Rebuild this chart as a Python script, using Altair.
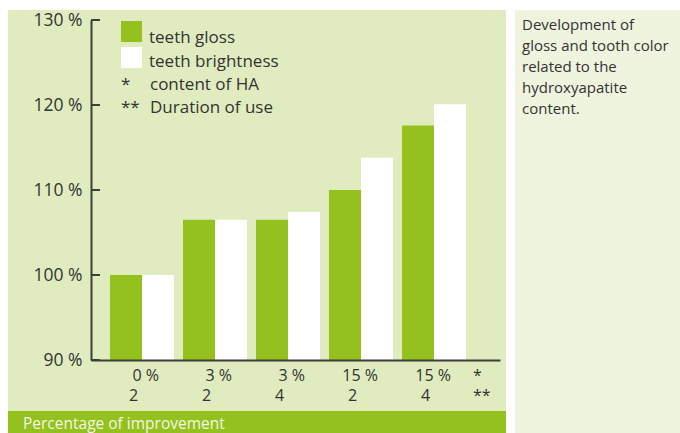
import altair as alt
import pandas as pd

# ---- data ----
ha_content = ["0 %", "3 %", "3 %", "15 %", "15 %"]
duration = ["2", "2", "4", "2", "4"]
gloss = [100.0, 106.5, 106.5, 110.0, 117.6]
brightness = [100.0, 106.5, 107.4, 113.8, 120.1]
series_names = ["teeth gloss", "teeth brightness"]
series_colors = ["#95c11f", "#ffffff"]
y_ticks = [90, 100, 110, 120, 130]
note_symbols = "*\n**"
note_texts = "content of HA\nDuration of use"
side_text = "Development of\ngloss and tooth color\nrelated to the\nhydroxyapatite\ncontent."
band_text = "Percentage of improvement"

groups = [f"G{i+1}" for i in range(len(ha_content))]
rows = []
for g, h, d, a, b in zip(groups, ha_content, duration, gloss, brightness):
    rows.append({"group": g, "series": series_names[0], "value": a})
    rows.append({"group": g, "series": series_names[1], "value": b})
bars_df = pd.DataFrame(rows)
labels_df = pd.DataFrame({"group": groups, "ha": ha_content, "dur": duration})
ticks_df = pd.DataFrame({"v": y_ticks})

FONT = "Open Sans"
DARK = "#333333"
AXIS = "#3b3f35"
W, H = 409, 340

x_scale = alt.Scale(domain=groups, paddingInner=9 / 73, paddingOuter=0.363, align=0.3585)
y_scale = alt.Scale(domain=[90, 130], zero=False, nice=False)
color_scale = alt.Scale(domain=series_names, range=series_colors)

one = pd.DataFrame({"k": [0]})

# backgrounds (decoration)
bg_main = alt.Chart(one).mark_rect(color="#e0ecbf").encode(
    x=alt.value(-83), x2=alt.value(415), y=alt.value(-10), y2=alt.value(391))
bg_band = alt.Chart(one).mark_rect(color="#95c11f").encode(
    x=alt.value(-83), x2=alt.value(415), y=alt.value(391), y2=alt.value(413))
bg_side = alt.Chart(one).mark_rect(color="#eff4de").encode(
    x=alt.value(424), x2=alt.value(589), y=alt.value(-10), y2=alt.value(413))

bars = alt.Chart(bars_df).mark_bar(clip=True).encode(
    x=alt.X("group:N", sort=groups, scale=x_scale,
            axis=alt.Axis(labels=False, ticks=False, title=None, domainColor=AXIS,
                          domainWidth=2, zindex=1)),
    xOffset=alt.XOffset("series:N", sort=series_names, scale=alt.Scale(paddingInner=0, paddingOuter=0)),
    y=alt.Y("value:Q", scale=y_scale,
            axis=alt.Axis(values=y_ticks, labelExpr="datum.value + ' %'", ticks=False,
                          grid=False, title=None, domainColor=AXIS, domainWidth=2,
                          labelFont=FONT, labelFontSize=17.5, labelColor=DARK,
                          labelPadding=9, zindex=1)),
    y2=alt.datum(90),
    color=alt.Color("series:N", sort=series_names, scale=color_scale, legend=None),
)

# legend (drawn by hand so that symbols and labels sit as in the reference)
leg_df = pd.DataFrame({"series": series_names})
leg_sq1 = alt.Chart(leg_df.iloc[[0]]).mark_rect().encode(
    x=alt.value(30), x2=alt.value(51), y=alt.value(1), y2=alt.value(22),
    color=alt.Color("series:N", scale=color_scale, legend=None))
leg_sq2 = alt.Chart(leg_df.iloc[[1]]).mark_rect().encode(
    x=alt.value(30), x2=alt.value(51), y=alt.value(27), y2=alt.value(48),
    color=alt.Color("series:N", scale=color_scale, legend=None))
leg_txt = alt.Chart(one).mark_text(font=FONT, fontSize=17, color=DARK, align="left",
                                   baseline="alphabetic", lineHeight=24,
                                   text="\n".join(series_names), lineBreak="\n").encode(
    x=alt.value(58), y=alt.value(23))

tick_rules = alt.Chart(ticks_df).mark_rule(color=AXIS, strokeWidth=2).encode(
    y=alt.Y("v:Q", scale=y_scale), x=alt.value(0), x2=alt.value(9))

lab1 = alt.Chart(labels_df).mark_text(font=FONT, fontSize=16, color=DARK, align="right",
                                      baseline="alphabetic", dx=17).encode(
    x=alt.X("group:N", sort=groups, scale=x_scale, bandPosition=0.5),
    y=alt.value(361), text="ha:N")
lab2 = alt.Chart(labels_df).mark_text(font=FONT, fontSize=16, color=DARK, align="left",
                                      baseline="alphabetic", dx=-13).encode(
    x=alt.X("group:N", sort=groups, scale=x_scale, bandPosition=0.5),
    y=alt.value(381), text="dur:N")

stars_axis = alt.Chart(one).mark_text(font=FONT, fontSize=16, color=DARK, align="left",
                                      baseline="alphabetic", lineHeight=20,
                                      text=note_symbols, lineBreak="\n").encode(
    x=alt.value(382), y=alt.value(361))

stars_leg = alt.Chart(one).mark_text(font=FONT, fontSize=17, color=DARK, align="left",
                                     baseline="alphabetic", lineHeight=23,
                                     text=note_symbols, lineBreak="\n").encode(
    x=alt.value(30), y=alt.value(70))
notes_leg = alt.Chart(one).mark_text(font=FONT, fontSize=17, color=DARK, align="left",
                                     baseline="alphabetic", lineHeight=23,
                                     text=note_texts, lineBreak="\n").encode(
    x=alt.value(59), y=alt.value(70))

side = alt.Chart(one).mark_text(font=FONT, fontSize=15, color=DARK, align="left",
                                baseline="alphabetic", lineHeight=21,
                                text=side_text, lineBreak="\n").encode(
    x=alt.value(431), y=alt.value(10))

band = alt.Chart(one).mark_text(font=FONT, fontSize=15.5, color="#f2f7e4", align="left",
                                baseline="alphabetic", text=band_text).encode(
    x=alt.value(-68), y=alt.value(409))

chart = alt.layer(
    bg_main, bg_band, bg_side, bars, tick_rules, leg_sq1, leg_sq2, leg_txt,
    lab1, lab2, stars_axis, stars_leg, notes_leg, side, band
).properties(
    width=W, height=H,
    autosize=alt.AutoSizeParams(type="none"),
    padding={"left": 91, "top": 20, "right": 180, "bottom": 73},
    background="#ffffff",
).configure_view(strokeWidth=0)

chart.save("out.html", embed_options={"renderer": "svg", "actions": False})
